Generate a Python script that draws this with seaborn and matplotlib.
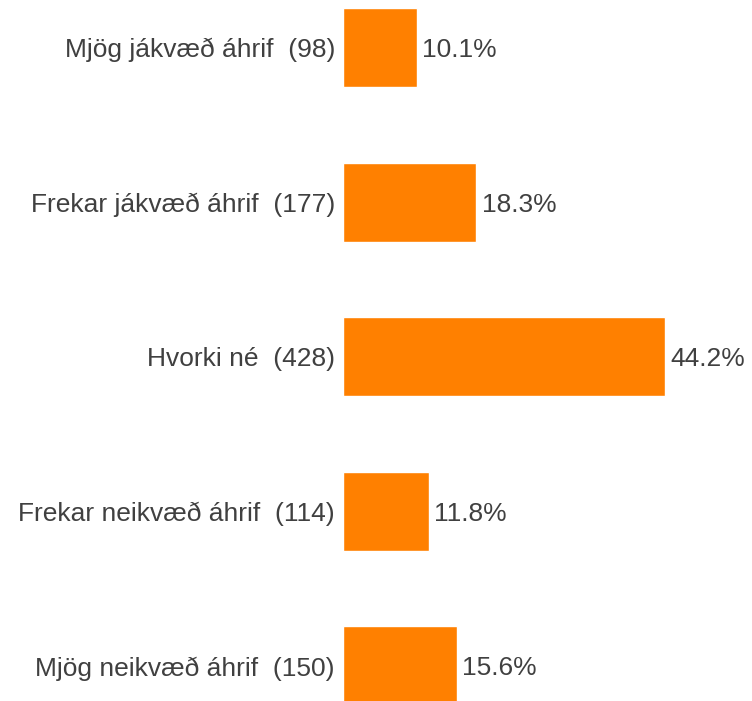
import matplotlib
matplotlib.use("Agg")
import matplotlib.pyplot as plt
import seaborn as sns
import pandas as pd

categories = ["Mjög jákvæð áhrif", "Frekar jákvæð áhrif", "Hvorki né",
              "Frekar neikvæð áhrif", "Mjög neikvæð áhrif"]
counts = [98, 177, 428, 114, 150]
percents = [10.1, 18.3, 44.2, 11.8, 15.6]

sns.set_theme(style="white")
plt.rcParams["font.family"] = ["Liberation Sans", "DejaVu Sans"]

df = pd.DataFrame({
    "label": [f"{c}  ({n})" for c, n in zip(categories, counts)],
    "pct": percents,
})

fig = plt.figure(figsize=(7.52, 7.01), dpi=100)
ax = fig.add_axes([343 / 752, 0, 1 - 343 / 752, 1])

sns.barplot(data=df, x="pct", y="label", color="#FF8000", saturation=1,
            width=0.511, ax=ax, orient="h")

ax.set_xlim(0, 56.1)
ax.set_ylim(4.227, -0.307)

text_color = "#404040"
fs = 19
for i, p in enumerate(percents):
    ax.text(p + 0.7, i, f"{p}%", va="center_baseline", ha="left",
            fontsize=fs, color=text_color)

ax.set_xlabel("")
ax.set_ylabel("")
ax.set_xticks([])
ax.tick_params(axis="y", length=0, pad=5.8, labelsize=fs, labelcolor=text_color)
for s in ax.spines.values():
    s.set_visible(False)

fig.savefig("out.png", dpi=100)
